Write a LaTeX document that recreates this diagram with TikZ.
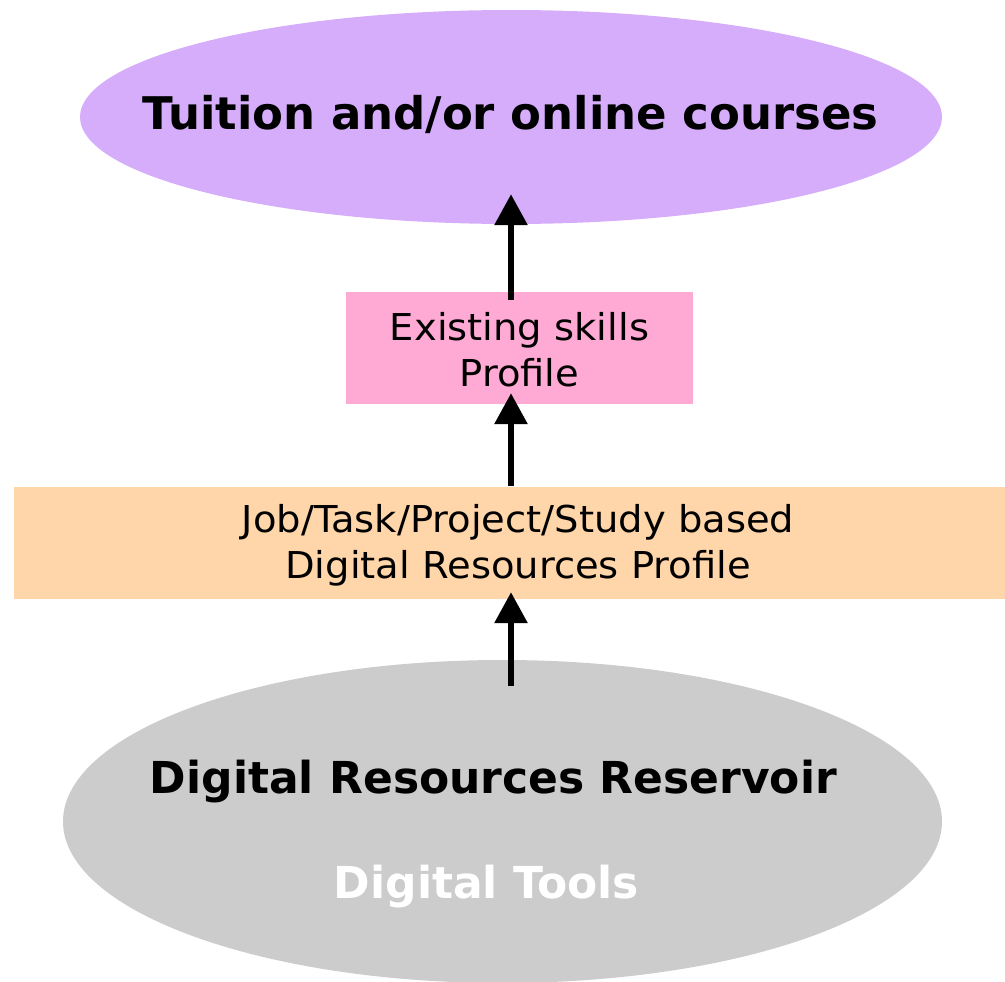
\documentclass[tikz,border=0pt]{standalone}
\usepackage{fontspec}
\setmainfont{DejaVu Sans}
\newfontfamily\widefont[FakeStretch=1.04]{DejaVu Sans}
\usetikzlibrary{shapes.geometric,arrows.meta,calc}
\definecolor{lav}{HTML}{D5ADFB}
\definecolor{pinkbox}{HTML}{FFAAD5}
\definecolor{orangebox}{HTML}{FFD5AA}
\definecolor{grayell}{HTML}{CCCCCC}
\begin{document}
\begin{tikzpicture}[x=1pt,y=-1pt,
  ell/.style={ellipse,inner sep=0pt,draw=none},
  boxnode/.style={rectangle,inner sep=0pt,draw=none},
  bigtxt/.style={font=\fontsize{44}{50}\selectfont\bfseries,inner sep=0pt},
  txt/.style={font=\widefont\fontsize{37}{46}\selectfont,align=center,inner sep=0pt},
  arr/.style={line width=6pt,-{Triangle[length=31pt,width=32pt]}}]
\useasboundingbox (0,0) rectangle (1005,982);
\clip (0,0) rectangle (1005,982);
\node[ell,fill=lav,minimum width=862pt,minimum height=214pt] (top) at (511,117) {};
\node[bigtxt,font=\fontsize{45}{50}\selectfont\bfseries] (toptxt) at (510.5,114) {Tuition and/or online courses};
\node[boxnode,fill=pinkbox,minimum width=347pt,minimum height=112pt] (pink) at (519.5,348) {};
\node[txt] (pinktxt) at (519.5,350) {Existing skills\\Profile};
\node[boxnode,fill=orangebox,minimum width=991pt,minimum height=112pt] (orange) at (509.5,543) {};
\node[txt] (orangetxt) at (518,545) {Job/Task/Project/Study based\\Digital Resources Profile};
\node[ell,fill=grayell,minimum width=879pt,minimum height=323pt] (bottom) at (502.5,821.5) {};
\node[bigtxt] (restxt) at (493.5,782) {Digital Resources Reservoir};
\node[bigtxt,text=white] (tooltxt) at (486.5,887) {Digital Tools};
\coordinate (a1s) at ($(bottom.north)+(8.5,26)$);
\draw[arr] (a1s) -- ($(orange.south -| a1s)+(0,-7)$);
\draw[arr] ($(orange.north -| a1s)+(0,-1)$) -- ($(pink.south -| a1s)+(0,-11)$);
\draw[arr] ($(pink.north -| a1s)+(0,8)$) -- ($(top.south)+(0,-30)$);
\end{tikzpicture}
\end{document}
